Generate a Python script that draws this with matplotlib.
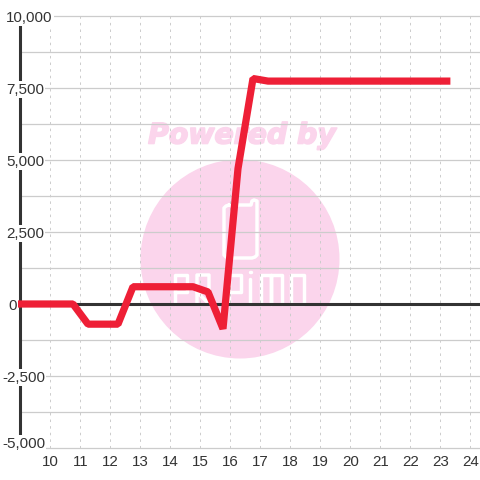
import matplotlib
matplotlib.use("Agg")
import matplotlib.pyplot as plt
import matplotlib.patheffects as pe
from matplotlib.patches import Circle

plt.rcParams['font.family'] = ['Liberation Sans', 'DejaVu Sans']

# values
hours = [8.89, 10.75, 11.25, 12.25, 12.75, 14.75, 15.25, 15.75, 16.25, 16.75, 17.25, 23.33]
values = [0, 0, -700, -700, 600, 600, 420, -860, 4700, 7830, 7740, 7740]
x_ticks = list(range(10, 25))
y_major = [10000, 7500, 5000, 2500, 0, -2500, -5000]
y_labels = ['10,000', '7,500', '5,000', '2,500', '0', '-2,500', '-5,000']
y_grid = [10000, 8750, 7500, 6250, 5000, 3750, 2500, 1250, -1250, -2500, -3750, -5000]

INK = '#333333'
GRID = '#cccccc'
PINK = '#fbd5ec'

fig = plt.figure(figsize=(4.8, 4.8), dpi=100)

# watermark lives in its own axes, in image pixels
wm = fig.add_axes([0, 0, 1, 1])
wm.set_xlim(0, 480)
wm.set_ylim(480, 0)
wm.axis('off')
wm.add_patch(Circle((240, 259), 99.5, fc=PINK, ec='none'))
wm.text(242, 135.5, 'Powered by', color=PINK, fontsize=20.4, fontweight='bold', style='italic',
        family='DejaVu Sans', ha='center', va='center',
        path_effects=[pe.withStroke(linewidth=1.2, foreground=PINK)])


def stroke(xs, ys):
    wm.plot(xs, ys, color='white', lw=2.5, solid_capstyle='round', solid_joinstyle='round')


# phone icon
stroke([229, 226, 224, 224, 226, 229, 252, 255, 257, 257, 254, 252, 251, 229],
       [205, 206, 208, 255, 257, 258, 258, 257, 255, 201, 200, 201, 205, 205])
# PAPiMO lettering
stroke([175, 175, 187, 187, 175], [304, 275, 275, 292, 292])
stroke([197, 197, 209, 209, 197], [304, 275, 275, 304, 292])
stroke([229, 229, 241, 241, 229], [304, 275, 275, 292, 292])
stroke([250, 250], [279, 304])
stroke([249.5, 250.5], [272, 272])
stroke([261, 261, 271, 271, 271, 282, 282], [304, 275, 275, 304, 275, 275, 304])
stroke([291, 291, 304, 304, 291], [275, 304, 304, 275, 275])

ax = fig.add_axes([0, 0, 1, 1], facecolor='none')
ax.set_xlim(8.317, 24.317)
ax.set_ylim(-6111, 10556)
ax.axis('off')

ax.hlines(y_grid, 9, 24.317, color=GRID, lw=0.9, zorder=1)
ax.vlines(x_ticks, -5000, 10000, color=GRID, lw=0.7, linestyles=(0, (2.6, 4.2)), zorder=1)
ax.hlines(0, 9, 24.317, color=INK, lw=2.2, zorder=2)
ax.plot([9, 9], [-5000, 10000], color=INK, lw=2.2, solid_capstyle='butt', zorder=2)

ax.plot(hours, values, color='#ee1f36', lw=5.2, solid_capstyle='butt', solid_joinstyle='bevel', zorder=3)

trans = ax.get_yaxis_transform()
for val, lab in zip(y_major, y_labels):
    left = 2 if val < 0 else (8 if val == 0 else 6)
    nudge = 3.2 if val == -5000 else -1.2
    ax.annotate(lab, xy=(left / 480, val), xycoords=trans, xytext=(0, nudge), textcoords='offset points',
                ha='left', va='center', fontsize=10.9, color=INK, zorder=4,
                bbox=dict(fc='white', ec='none', pad=1.0))

for h in x_ticks:
    ax.text(h, -5500, str(h), ha='center', va='center', fontsize=10.9, color=INK, zorder=4)

fig.savefig('out.png', dpi=100)
